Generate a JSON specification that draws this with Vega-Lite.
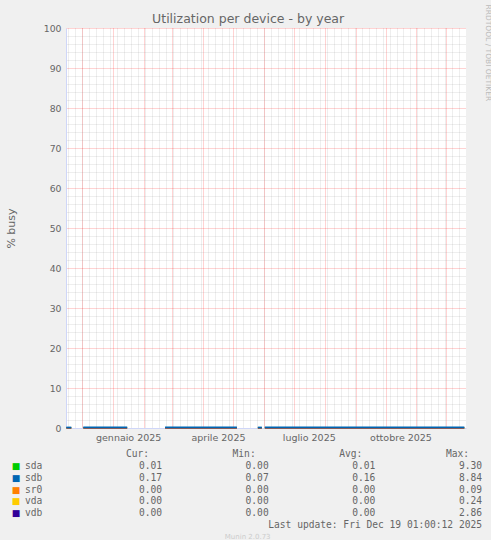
{
  "$schema": "https://vega.github.io/schema/vega-lite/v6.json",
  "background": "#f0f0f0",
  "padding": {"left": 5, "top": 4, "right": 0, "bottom": 0},
  "title": {"text": "Utilization per device - by year", "fontSize": 12.5, "font": "DejaVu Sans", "fontWeight": "normal", "color": "#666666", "anchor": "middle", "baseline": "alphabetic", "offset": -31.5},
  "spacing": 7,
  "datasets": {
    "lines": [
      {"date": "2024-11-15T00:00", "series": "sda", "value": 0.01, "seg": 1},
      {"date": "2024-11-20T00:00", "series": "sda", "value": 0.01, "seg": 1},
      {"date": "2024-12-02T00:00", "series": "sda", "value": 0.01, "seg": 2},
      {"date": "2025-01-15T00:00", "series": "sda", "value": 0.01, "seg": 2},
      {"date": "2025-02-22T00:00", "series": "sda", "value": 0.01, "seg": 3},
      {"date": "2025-05-05T00:00", "series": "sda", "value": 0.01, "seg": 3},
      {"date": "2025-05-26T00:00", "series": "sda", "value": 0.01, "seg": 4},
      {"date": "2025-05-30T00:00", "series": "sda", "value": 0.01, "seg": 4},
      {"date": "2025-06-02T00:00", "series": "sda", "value": 0.01, "seg": 5},
      {"date": "2025-12-19T00:00", "series": "sda", "value": 0.01, "seg": 5},
      {"date": "2024-11-15T00:00", "series": "sr0", "value": 0, "seg": 1},
      {"date": "2024-11-20T00:00", "series": "sr0", "value": 0, "seg": 1},
      {"date": "2024-12-02T00:00", "series": "sr0", "value": 0, "seg": 2},
      {"date": "2025-01-15T00:00", "series": "sr0", "value": 0, "seg": 2},
      {"date": "2025-02-22T00:00", "series": "sr0", "value": 0, "seg": 3},
      {"date": "2025-05-05T00:00", "series": "sr0", "value": 0, "seg": 3},
      {"date": "2025-05-26T00:00", "series": "sr0", "value": 0, "seg": 4},
      {"date": "2025-05-30T00:00", "series": "sr0", "value": 0, "seg": 4},
      {"date": "2025-06-02T00:00", "series": "sr0", "value": 0, "seg": 5},
      {"date": "2025-12-19T00:00", "series": "sr0", "value": 0, "seg": 5},
      {"date": "2024-11-15T00:00", "series": "vda", "value": 0, "seg": 1},
      {"date": "2024-11-20T00:00", "series": "vda", "value": 0, "seg": 1},
      {"date": "2024-12-02T00:00", "series": "vda", "value": 0, "seg": 2},
      {"date": "2025-01-15T00:00", "series": "vda", "value": 0, "seg": 2},
      {"date": "2025-02-22T00:00", "series": "vda", "value": 0, "seg": 3},
      {"date": "2025-05-05T00:00", "series": "vda", "value": 0, "seg": 3},
      {"date": "2025-05-26T00:00", "series": "vda", "value": 0, "seg": 4},
      {"date": "2025-05-30T00:00", "series": "vda", "value": 0, "seg": 4},
      {"date": "2025-06-02T00:00", "series": "vda", "value": 0, "seg": 5},
      {"date": "2025-12-19T00:00", "series": "vda", "value": 0, "seg": 5},
      {"date": "2024-11-15T00:00", "series": "vdb", "value": 0, "seg": 1},
      {"date": "2024-11-20T00:00", "series": "vdb", "value": 0, "seg": 1},
      {"date": "2024-12-02T00:00", "series": "vdb", "value": 0, "seg": 2},
      {"date": "2025-01-15T00:00", "series": "vdb", "value": 0, "seg": 2},
      {"date": "2025-02-22T00:00", "series": "vdb", "value": 0, "seg": 3},
      {"date": "2025-05-05T00:00", "series": "vdb", "value": 0, "seg": 3},
      {"date": "2025-05-26T00:00", "series": "vdb", "value": 0, "seg": 4},
      {"date": "2025-05-30T00:00", "series": "vdb", "value": 0, "seg": 4},
      {"date": "2025-06-02T00:00", "series": "vdb", "value": 0, "seg": 5},
      {"date": "2025-12-19T00:00", "series": "vdb", "value": 0, "seg": 5},
      {"date": "2024-11-15T00:00", "series": "sdb", "value": 0.16, "seg": 1},
      {"date": "2024-11-20T00:00", "series": "sdb", "value": 0.16, "seg": 1},
      {"date": "2024-12-02T00:00", "series": "sdb", "value": 0.16, "seg": 2},
      {"date": "2024-12-16T00:00", "series": "sdb", "value": 0.16, "seg": 2},
      {"date": "2024-12-30T00:00", "series": "sdb", "value": 0.16, "seg": 2},
      {"date": "2025-01-15T00:00", "series": "sdb", "value": 0.16, "seg": 2},
      {"date": "2025-02-22T00:00", "series": "sdb", "value": 0.16, "seg": 3},
      {"date": "2025-03-08T00:00", "series": "sdb", "value": 0.16, "seg": 3},
      {"date": "2025-03-22T00:00", "series": "sdb", "value": 0.16, "seg": 3},
      {"date": "2025-04-05T00:00", "series": "sdb", "value": 0.16, "seg": 3},
      {"date": "2025-04-19T00:00", "series": "sdb", "value": 0.16, "seg": 3},
      {"date": "2025-05-05T00:00", "series": "sdb", "value": 0.16, "seg": 3},
      {"date": "2025-05-26T00:00", "series": "sdb", "value": 0.16, "seg": 4},
      {"date": "2025-05-30T00:00", "series": "sdb", "value": 0.16, "seg": 4},
      {"date": "2025-06-02T00:00", "series": "sdb", "value": 0.16, "seg": 5},
      {"date": "2025-06-16T00:00", "series": "sdb", "value": 0.16, "seg": 5},
      {"date": "2025-07-01T00:00", "series": "sdb", "value": 0.16, "seg": 5},
      {"date": "2025-07-15T00:00", "series": "sdb", "value": 0.16, "seg": 5},
      {"date": "2025-08-01T00:00", "series": "sdb", "value": 0.16, "seg": 5},
      {"date": "2025-08-15T00:00", "series": "sdb", "value": 0.16, "seg": 5},
      {"date": "2025-09-01T00:00", "series": "sdb", "value": 0.16, "seg": 5},
      {"date": "2025-09-15T00:00", "series": "sdb", "value": 0.16, "seg": 5},
      {"date": "2025-10-01T00:00", "series": "sdb", "value": 0.16, "seg": 5},
      {"date": "2025-10-15T00:00", "series": "sdb", "value": 0.16, "seg": 5},
      {"date": "2025-11-01T00:00", "series": "sdb", "value": 0.16, "seg": 5},
      {"date": "2025-11-15T00:00", "series": "sdb", "value": 0.16, "seg": 5},
      {"date": "2025-12-01T00:00", "series": "sdb", "value": 0.16, "seg": 5},
      {"date": "2025-12-19T00:00", "series": "sdb", "value": 0.16, "seg": 5}
    ],
    "stats": [
      {"series": "sda", "Cur": 0.01, "Min": 0.00, "Avg": 0.01, "Max": 9.30},
      {"series": "sdb", "Cur": 0.17, "Min": 0.07, "Avg": 0.16, "Max": 8.84},
      {"series": "sr0", "Cur": 0.00, "Min": 0.00, "Avg": 0.00, "Max": 0.09},
      {"series": "vda", "Cur": 0.00, "Min": 0.00, "Avg": 0.00, "Max": 0.24},
      {"series": "vdb", "Cur": 0.00, "Min": 0.00, "Avg": 0.00, "Max": 2.86}
    ],
    "headers": [
      {"col": "Cur", "label": "Cur:"},
      {"col": "Min", "label": "Min:"},
      {"col": "Avg", "label": "Avg:"},
      {"col": "Max", "label": "Max:"}
    ],
    "footer": [{"label": "Last update: Fri Dec 19 01:00:12 2025"}],
    "credit": [{"label": "Munin 2.0.73"}]
  },
  "vconcat": [
    {
      "width": 400,
      "height": 400,
      "view": {"fill": "white", "stroke": null},
      "data": {"name": "lines"},
      "layer": [
        {
          "mark": {"type": "line", "opacity": 0},
          "encoding": {
            "x": {"field": "date", "type": "temporal",
              "scale": {"domain": [{"year": 2024, "month": 11, "date": 14, "hours": 16}, {"year": 2025, "month": 12, "date": 20, "hours": 16}]},
              "axis": {"orient": "bottom", "grid": true, "gridColor": "#808080", "gridOpacity": 0.28, "gridDash": [1, 1], "gridWidth": 1, "tickCount": {"interval": "week", "step": 1}, "labels": false, "ticks": false, "domain": false, "title": null}},
            "y": {"field": "value", "type": "quantitative",
              "scale": {"domain": [0, 100], "nice": false, "zero": true},
              "axis": {"orient": "left", "values": [2, 4, 6, 8, 12, 14, 16, 18, 22, 24, 26, 28, 32, 34, 36, 38, 42, 44, 46, 48, 52, 54, 56, 58, 62, 64, 66, 68, 72, 74, 76, 78, 82, 84, 86, 88, 92, 94, 96, 98], "grid": true, "gridColor": "#808080", "gridOpacity": 0.28, "gridDash": [1, 1], "labels": false, "ticks": false, "domain": false, "title": null}}
          }
        },
        {
          "mark": {"type": "line", "opacity": 0},
          "encoding": {
            "x": {"field": "date", "type": "temporal",
              "axis": {"orient": "bottom", "grid": true, "gridColor": "#ff0000", "gridOpacity": 0.35, "gridDash": [1, 1], "tickCount": {"interval": "month", "step": 1}, "labels": false, "ticks": false, "domain": true, "domainColor": "#cfd6f8", "title": null}},
            "y": {"field": "value", "type": "quantitative",
              "axis": {"orient": "left", "values": [0, 10, 20, 30, 40, 50, 60, 70, 80, 90, 100], "grid": true, "gridColor": "#ff0000", "gridOpacity": 0.35, "gridDash": [1, 1], "labels": true, "labelFont": "DejaVu Sans", "labelFontSize": 9.3, "labelColor": "#666666", "labelPadding": 5, "ticks": false, "domain": true, "domainColor": "#cfd6f8", "title": "% busy", "titleFont": "DejaVu Sans", "titleFontSize": 11, "titleFontWeight": "normal", "titleColor": "#666666", "titlePadding": 27}}
          }
        },
        {
          "mark": {"type": "line", "opacity": 0},
          "encoding": {
            "x": {"field": "date", "type": "temporal",
              "axis": {"orient": "bottom", "values": [{"year": 2025, "month": 1, "date": 16}, {"year": 2025, "month": 4, "date": 16}, {"year": 2025, "month": 7, "date": 16}, {"year": 2025, "month": 10, "date": 16}],
                "labelExpr": "['gennaio','febbraio','marzo','aprile','maggio','giugno','luglio','agosto','settembre','ottobre','novembre','dicembre'][month(datum.value)] + ' ' + year(datum.value)",
                "grid": false, "ticks": false, "domain": false, "labelFont": "DejaVu Sans", "labelFontSize": 9.5, "labelColor": "#666666", "labelPadding": 4, "title": null}},
            "y": {"field": "value", "type": "quantitative",
              "axis": {"orient": "right", "grid": false, "labels": false, "ticks": false, "domain": false, "title": "RRDTOOL / TOBI OETIKER", "titleFont": "DejaVu Sans", "titleFontSize": 7.5, "titleFontWeight": "normal", "titleColor": "#bbbbbb", "titleAngle": 90, "titleAlign": "left", "titleBaseline": "middle", "titleX": 21, "titleY": -24}}
          }
        },
        {
          "transform": [{"filter": "datum.series !== 'sdb'"}],
          "mark": {"type": "line", "strokeWidth": 1},
          "encoding": {
            "x": {"field": "date", "type": "temporal", "axis": null},
            "y": {"field": "value", "type": "quantitative", "axis": null},
            "color": {"field": "series", "type": "nominal", "scale": {"domain": ["sda", "sdb", "sr0", "vda", "vdb"], "range": ["#00cc00", "#0066b3", "#ff8000", "#ffcc00", "#330099"]}, "legend": null},
            "detail": {"field": "seg", "type": "nominal"}
          }
        },
        {
          "transform": [{"filter": "datum.series === 'sdb'"}],
          "mark": {"type": "line", "strokeWidth": 1.5},
          "encoding": {
            "x": {"field": "date", "type": "temporal", "axis": null},
            "y": {"field": "value", "type": "quantitative", "axis": null},
            "color": {"field": "series", "type": "nominal", "legend": null},
            "detail": {"field": "seg", "type": "nominal"}
          }
        }
      ],
      "resolve": {"axis": {"x": "independent", "y": "independent"}}
    },
    {
      "width": 420,
      "height": 83,
      "layer": [
        {
          "data": {"name": "stats"},
          "mark": {"type": "text", "text": "■", "font": "DejaVu Sans", "fontSize": 9, "align": "center", "baseline": "middle", "dx": -146},
          "encoding": {
            "x": {"datum": "Cur", "type": "nominal", "scale": {"type": "point", "domain": ["Cur", "Min", "Avg", "Max"], "range": [96, 416], "padding": 0}, "axis": null},
            "y": {"field": "series", "type": "nominal", "scale": {"type": "point", "domain": ["hdr", "sda", "sdb", "sr0", "vda", "vdb", "upd", "munin"], "padding": 0}, "axis": null},
            "color": {"field": "series", "type": "nominal", "scale": {"domain": ["sda", "sdb", "sr0", "vda", "vdb"], "range": ["#00cc00", "#0066b3", "#ff8000", "#ffcc00", "#330099"]}, "legend": null}
          }
        },
        {
          "data": {"name": "stats"},
          "mark": {"type": "text", "font": "DejaVu Sans Mono", "fontSize": 9.6, "align": "left", "baseline": "middle", "dx": -137, "color": "#666666"},
          "encoding": {
            "x": {"datum": "Cur", "type": "nominal", "axis": null},
            "y": {"field": "series", "type": "nominal", "axis": null},
            "text": {"field": "series"}
          }
        },
        {
          "data": {"name": "stats"},
          "transform": [{"fold": ["Cur", "Min", "Avg", "Max"], "as": ["col", "v"]}],
          "mark": {"type": "text", "font": "DejaVu Sans Mono", "fontSize": 9.6, "align": "right", "baseline": "middle", "color": "#666666"},
          "encoding": {
            "x": {"field": "col", "type": "nominal", "axis": null},
            "y": {"field": "series", "type": "nominal", "axis": null},
            "text": {"field": "v", "type": "quantitative", "format": ".2f"}
          }
        },
        {
          "data": {"name": "headers"},
          "mark": {"type": "text", "font": "DejaVu Sans Mono", "fontSize": 9.6, "align": "right", "baseline": "middle", "dx": -13, "color": "#666666"},
          "encoding": {
            "x": {"field": "col", "type": "nominal", "axis": null},
            "y": {"datum": "hdr", "type": "nominal", "axis": null},
            "text": {"field": "label"}
          }
        },
        {
          "data": {"name": "footer"},
          "mark": {"type": "text", "font": "DejaVu Sans Mono", "fontSize": 9.6, "align": "right", "baseline": "middle", "color": "#666666"},
          "encoding": {
            "x": {"datum": "Max", "type": "nominal", "axis": null},
            "y": {"datum": "upd", "type": "nominal", "axis": null},
            "text": {"field": "label"}
          }
        },
        {
          "data": {"name": "credit"},
          "mark": {"type": "text", "font": "DejaVu Sans", "fontSize": 7, "align": "center", "baseline": "middle", "dx": -21, "color": "#cccccc"},
          "encoding": {
            "x": {"datum": "Min", "type": "nominal", "axis": null},
            "y": {"datum": "munin", "type": "nominal", "axis": null},
            "text": {"field": "label"}
          }
        }
      ]
    }
  ],
  "config": {"view": {"stroke": null}, "font": "DejaVu Sans"}
}
